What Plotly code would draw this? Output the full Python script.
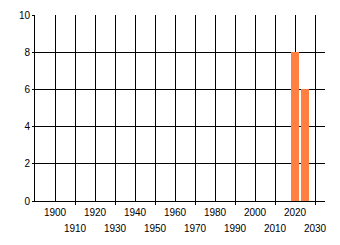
import plotly.graph_objects as go

years = [2020, 2025]
values = [8, 6]
even_decades = [1900, 1920, 1940, 1960, 1980, 2000, 2020]
odd_decades = [1910, 1930, 1950, 1970, 1990, 2010, 2030]
all_decades = sorted(even_decades + odd_decades)
y_ticks = [0, 2, 4, 6, 8, 10]

fig = go.Figure()
fig.add_trace(go.Bar(x=years, y=values, width=4, marker=dict(color="#FF8040", line=dict(width=0)),
                     xaxis="x", yaxis="y"))
# invisible trace to activate xaxis2
fig.add_trace(go.Scatter(x=[1890], y=[0], mode="markers", marker=dict(opacity=0),
                         xaxis="x2", yaxis="y", showlegend=False, hoverinfo="skip"))

font = dict(family="Liberation Sans, Arial, sans-serif", size=10, color="#000000")

fig.update_layout(
    width=340, height=245,
    margin=dict(l=35, r=15, t=15, b=44, autoexpand=False),
    paper_bgcolor="white", plot_bgcolor="white",
    showlegend=False,
    font=font,
    bargap=0,
    xaxis=dict(range=[1890, 2035], tickmode="array", tickvals=all_decades,
               ticktext=[str(v) if v in even_decades else "" for v in all_decades],
               showgrid=True, gridcolor="#000000", gridwidth=1,
               showline=True, linecolor="#000000", linewidth=1,
               ticks="", tickfont=font, zeroline=False, ticklabelstandoff=2,
               automargin=False),
    xaxis2=dict(range=[1890, 2035], overlaying="x", side="bottom", tickmode="array",
                tickvals=odd_decades, ticktext=[str(v) for v in odd_decades],
                showgrid=False, showline=False, ticks="outside", ticklen=3,
                tickcolor="#000000", tickfont=font, zeroline=False, ticklabelstandoff=15,
                automargin=False),
    yaxis=dict(range=[0, 10], tickmode="array", tickvals=y_ticks,
               showgrid=True, gridcolor="#000000", gridwidth=1,
               showline=True, linecolor="#000000", linewidth=1,
               ticks="outside", ticklen=2, tickcolor="#000000",
               tickfont=font, zeroline=False, automargin=False),
)

fig.write_html("out.html")
